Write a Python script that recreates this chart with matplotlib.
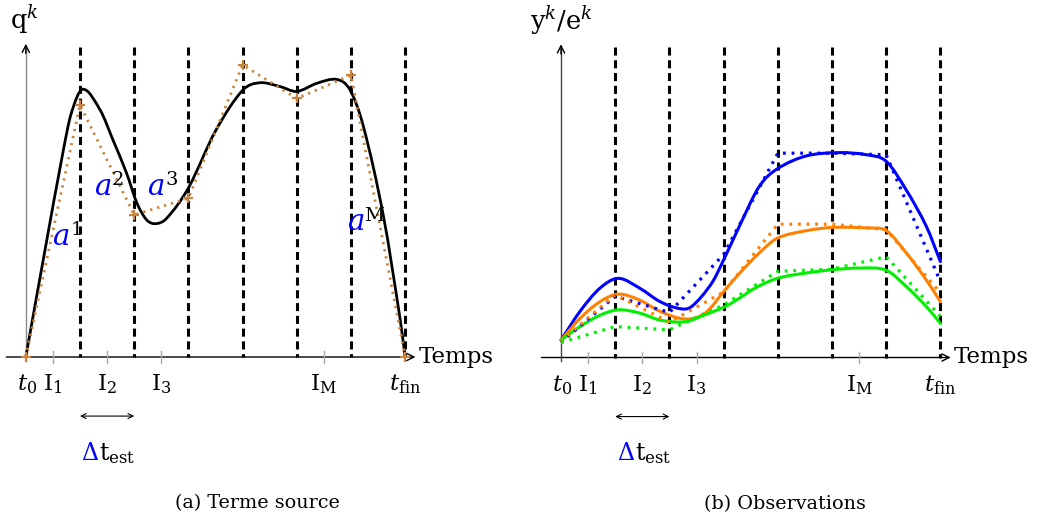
import numpy as np
import matplotlib
matplotlib.use('Agg')
import matplotlib.pyplot as plt
from matplotlib.path import Path
from matplotlib.patches import PathPatch

plt.rcParams['font.family'] = 'DejaVu Serif'
plt.rcParams['mathtext.fontset'] = 'dejavuserif'
plt.rcParams['lines.scale_dashes'] = False

# ---------------- data ----------------
boundaries = [1, 2, 3, 4, 5, 6, 7]
tick_pos = [0.5, 1.5, 2.5, 5.5]
axis_labels_x = [0.02, 0.5, 1.5, 2.5, 5.5, 7.0]
axis_labels = [r'$t_0$', r'$\mathrm{I}_1$', r'$\mathrm{I}_2$', r'$\mathrm{I}_3$',
               r'$\mathrm{I}_\mathrm{M}$', r'$t_\mathrm{fin}$']

# (a) source term: smooth true curve
q_x = [0, 0.35, 0.69, 0.84, 1.05, 1.37, 1.61, 1.86, 2.05, 2.23, 2.40, 2.6, 3.0, 3.5,
       4.0, 4.32, 4.69, 5.0, 5.37, 5.74, 5.98, 6.23, 6.6, 6.9, 7.0]
q_y = [0, 1.95, 3.8, 4.5, 4.94, 4.56, 4.0, 3.39, 2.84, 2.53, 2.46, 2.56, 3.12, 4.17,
       4.92, 5.06, 4.99, 4.90, 5.05, 5.12, 4.93, 4.25, 2.59, 0.74, 0.0]
# estimated piecewise values a^i
a_x = [0, 1, 2, 3, 4, 5, 6, 7]
a_y = [0, 4.65, 2.62, 2.93, 5.39, 4.77, 5.20, 0]

# (b) observations: smooth curves
blue_x = [0, 0.35, 0.72, 1.06, 1.45, 1.83, 2.2, 2.41, 2.78, 3.0, 3.29, 3.66, 3.99,
          4.53, 5.14, 5.64, 6.0, 6.37, 6.74, 7.0]
blue_y = [0.32, 0.85, 1.28, 1.46, 1.28, 1.03, 0.9, 0.94, 1.37, 1.80, 2.42, 3.16, 3.48,
          3.72, 3.78, 3.74, 3.62, 3.09, 2.42, 1.77]
orange_x = [0, 0.35, 0.72, 1.06, 1.45, 1.83, 2.29, 2.66, 3.03, 3.3, 3.66, 3.99, 4.53,
            5.02, 5.64, 6.0, 6.37, 6.74, 7.0]
orange_y = [0.32, 0.72, 1.03, 1.17, 1.06, 0.85, 0.71, 0.82, 1.25, 1.56, 1.93, 2.20, 2.34,
            2.40, 2.39, 2.34, 1.93, 1.43, 1.03]
green_x = [0, 0.35, 0.72, 1.06, 1.45, 1.83, 2.29, 2.66, 3.03, 3.3, 3.58, 3.99, 4.53,
           5.02, 5.51, 6.0, 6.37, 6.74, 7.0]
green_y = [0.32, 0.57, 0.78, 0.88, 0.82, 0.69, 0.66, 0.79, 0.94, 1.10, 1.28, 1.46, 1.56,
           1.62, 1.65, 1.61, 1.31, 0.94, 0.63]
# piecewise estimated observations
obs_x = [0, 1, 2, 3, 4, 5, 6, 7]
blue_dot = [0.28, 1.13, 0.83, 1.90, 3.77, 3.77, 3.74, 1.40]
orange_dot = [0.30, 1.16, 0.65, 1.21, 2.46, 2.46, 2.36, 1.19]
green_dot = [0.28, 0.57, 0.51, 0.97, 1.59, 1.63, 1.86, 0.76]

BLUE = '#0000FF'
ORANGE = '#FF8000'
GREEN = '#00F000'
TAN = '#C8843C'

# ---------------- helpers ----------------
def smooth_path(x, y):
    """Cubic Hermite (in x) rendered as Bezier segments through the read points."""
    x = np.asarray(x, float)
    y = np.asarray(y, float)
    n = len(x)
    d = np.empty(n)
    d[0] = (y[1] - y[0]) / (x[1] - x[0])
    d[-1] = (y[-1] - y[-2]) / (x[-1] - x[-2])
    for i in range(1, n - 1):
        d[i] = (y[i + 1] - y[i - 1]) / (x[i + 1] - x[i - 1])
    verts = [(x[0], y[0])]
    codes = [Path.MOVETO]
    for i in range(n - 1):
        h = x[i + 1] - x[i]
        verts += [(x[i] + h / 3, y[i] + d[i] * h / 3),
                  (x[i + 1] - h / 3, y[i + 1] - d[i + 1] * h / 3),
                  (x[i + 1], y[i + 1])]
        codes += [Path.CURVE4] * 3
    return Path(verts, codes)


def add_smooth(ax, x, y, color, lw):
    ax.add_patch(PathPatch(smooth_path(x, y), fill=False, ec=color, lw=lw,
                           capstyle='round', joinstyle='round', zorder=4))


UNIT = 54.2
FIG_W, FIG_H = 1038, 521


def make_axes(fig, left_px, width_px, x0_px, y0_px):
    ax = fig.add_axes([left_px / FIG_W, 0, width_px / FIG_W, 1])
    ax.set_xlim((left_px - x0_px) / UNIT, (left_px + width_px - x0_px) / UNIT)
    ax.set_ylim((y0_px - FIG_H) / UNIT, y0_px / UNIT)
    ax.axis('off')
    return ax


def frame(ax, ylabel, ylabel_x, caption, caption_x, delta_x, yaxis_color):
    # dashed interval boundaries
    for b in boundaries:
        ax.plot([b, b], [5.72, 0], color='black', lw=2.2, dashes=(5.8, 3.4),
                solid_capstyle='butt', dash_capstyle='butt', zorder=2)
    # x axis
    ax.annotate('', xy=(7.19, 0), xytext=(-0.36, 0),
                arrowprops=dict(arrowstyle='->', lw=1.0, color='black',
                                shrinkA=0, shrinkB=0, mutation_scale=13), zorder=3)
    # y axis
    ax.plot([0, 0], [-0.07, 5.7], color=yaxis_color, lw=1.0, zorder=3)
    ax.annotate('', xy=(0, 5.78), xytext=(0, 5.6),
                arrowprops=dict(arrowstyle='->', lw=1.0, color='black',
                                shrinkA=0, shrinkB=0, mutation_scale=13), zorder=3)
    # light ticks for the interval centres
    for t in tick_pos:
        ax.plot([t, t], [-0.11, 0.11], color='#aaaaaa', lw=1.0, zorder=3)
    for lx, lab in zip(axis_labels_x, axis_labels):
        ax.text(lx, -0.62, lab, ha='center', va='baseline', fontsize=16.5)
    ax.text(7.25, -0.11, 'Temps', ha='left', va='baseline', fontsize=16.5)
    ax.text(ylabel_x, 6.05, ylabel, ha='left', va='baseline', fontsize=18.5)
    # estimation window
    ax.annotate('', xy=(2, -1.09), xytext=(1, -1.09),
                arrowprops=dict(arrowstyle='<->', lw=0.8, color='black',
                                shrinkA=0, shrinkB=0, mutation_scale=9))
    ax.text(delta_x, -1.9, r'$\Delta$', color=BLUE, ha='right', va='baseline', fontsize=17)
    ax.text(delta_x, -1.9, r'$\mathrm{t}_\mathrm{est}$', color='black', ha='left',
            va='baseline', fontsize=17)
    ax.text(caption_x, -2.79, caption, ha='center', va='baseline', fontsize=13.8)


fig = plt.figure(figsize=(FIG_W / 100, FIG_H / 100), dpi=100)

# ---------------- (a) ----------------
axa = make_axes(fig, 0, 519, 25.8, 357)
frame(axa, r'$\mathrm{q}^k$', -0.3, '(a) Terme source', 4.28, 1.35, '#888888')
add_smooth(axa, q_x, q_y, 'black', 2.0)
axa.plot(a_x, a_y, color=TAN, lw=2.0, dashes=(1.6, 3.6), dash_capstyle='butt',
         marker='+', ms=7, mew=1.6, zorder=5)
a_pos = [(0.64, 2.07), (1.41, 2.99), (2.40, 2.99), (6.08, 2.34)]
a_sup = [('1', 0.82, 2.25), ('2', 1.59, 3.17), ('3', 2.57, 3.17), ('M', 6.24, 2.51)]
for (ax_, ay_), (s, sx, sy) in zip(a_pos, a_sup):
    axa.text(ax_, ay_, r'$a$', color=BLUE, ha='center', va='baseline', fontsize=21, zorder=6)
    axa.text(sx, sy, s, color='black', ha='left', va='baseline', fontsize=14, zorder=6)

# ---------------- (b) ----------------
axb = make_axes(fig, 519, 519, 561, 357.5)
frame(axb, r'$\mathrm{y}^k/\mathrm{e}^k$', -0.58, '(b) Observations', 4.13, 1.37, '#444444')
for xs, ys, c in [(blue_x, blue_y, BLUE), (orange_x, orange_y, ORANGE),
                  (green_x, green_y, GREEN)]:
    add_smooth(axb, xs, ys, c, 2.2)
for ys, c in [(blue_dot, BLUE), (orange_dot, ORANGE), (green_dot, GREEN)]:
    axb.plot(obs_x, ys, color=c, lw=2.3, dashes=(2.0, 4.2), dash_capstyle='butt', zorder=5)

fig.savefig('out.png', dpi=100)
